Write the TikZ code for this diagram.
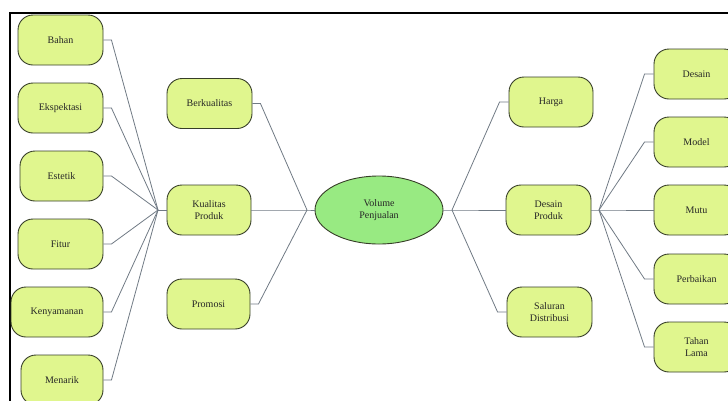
\documentclass[tikz,border=0pt]{standalone}
\usepackage{fontspec}
\setmainfont{Liberation Serif}
\usetikzlibrary{shapes.geometric}
\definecolor{boxfill}{RGB}{224,246,142}
\definecolor{ellfill}{RGB}{152,234,130}
\definecolor{boxline}{RGB}{55,62,40}
\definecolor{connc}{RGB}{112,122,132}
\begin{document}
\begin{tikzpicture}[x=1pt,y=-1pt,
  box/.style={draw=boxline, fill=boxfill, rounded corners=15pt, line width=0.9pt,
    minimum height=50pt, minimum width=85pt, align=center, inner sep=0pt,
    font=\fontsize{10}{12}\selectfont, text=black!85},
  ell/.style={draw=boxline, fill=ellfill, ellipse, line width=0.9pt,
    minimum width=128pt, minimum height=68pt, align=center, inner sep=0pt,
    font=\fontsize{10}{12}\selectfont, text=black!85},
  conn/.style={draw=connc, line width=0.8pt},
  frame/.style={draw=black, line width=2pt}]
\useasboundingbox (0,0) rectangle (728,400);
\clip (0,0) rectangle (728,400);
\draw[frame] (10,402) -- (10,13) -- (730,13);
% left column
\node[box] (bahan) at (60.5,40) {Bahan};
\node[box] (eksp) at (60.5,108) {Ekspektasi};
\node[box, minimum width=83pt] (estetik) at (61.5,176) {Estetik};
\node[box] (fitur) at (60.5,244) {Fitur};
\node[box, minimum width=92pt] (keny) at (57,312) {Kenyamanan};
\node[box, minimum width=82pt] (menarik) at (62,380) {Menarik};
% middle left
\node[box] (berk) at (209.5,103.5) {Berkualitas};
\node[box, minimum width=84pt] (kp) at (209,210) {Kualitas\\Produk};
\node[box, minimum width=83pt] (promosi) at (208.5,304) {Promosi};
% center
\node[ell] (vp) at (379,210) {Volume\\Penjualan};
% middle right
\node[box, minimum width=84pt] (harga) at (551,102) {Harga};
\node[box] (dp) at (548.5,210) {Desain\\Produk};
\node[box] (sd) at (549.5,312) {Saluran\\Distribusi};
% right column
\node[box] (desain) at (696.5,74) {Desain};
\node[box] (model) at (696.5,142) {Model};
\node[box] (mutu) at (696.5,210) {Mutu};
\node[box] (perb) at (696.5,279) {Perbaikan};
\node[box] (tahan) at (696.5,347) {Tahan\\Lama};
% junctions
\coordinate (jL) at (158,210);
\coordinate (jM) at (307,210);
\coordinate (jR) at (452,210);
\coordinate (jRR) at (599,210);
% connectors
\foreach \n in {bahan,eksp,estetik,fitur,keny,menarik}
  \draw[conn] (\n.east) -- ++(8,0) -- (jL);
\draw[conn] (jL) -- (kp.west);
\draw[conn] (berk.east) -- ++(8,0) -- (jM);
\draw[conn] (promosi.east) -- ++(8,0) -- (jM);
\draw[conn] (kp.east) -- (jM) -- (vp.west);
\draw[conn] (vp.east) -- (jR) -- (dp.west);
\draw[conn] (harga.west) -- ++(-9,0) -- (jR);
\draw[conn] (sd.west) -- ++(-9,0) -- (jR);
\draw[conn] (dp.east) -- (jRR) -- (mutu.west);
\foreach \n in {desain,model,perb,tahan}
  \draw[conn] (\n.west) -- ++(-9,0) -- (jRR);
\end{tikzpicture}
\end{document}
